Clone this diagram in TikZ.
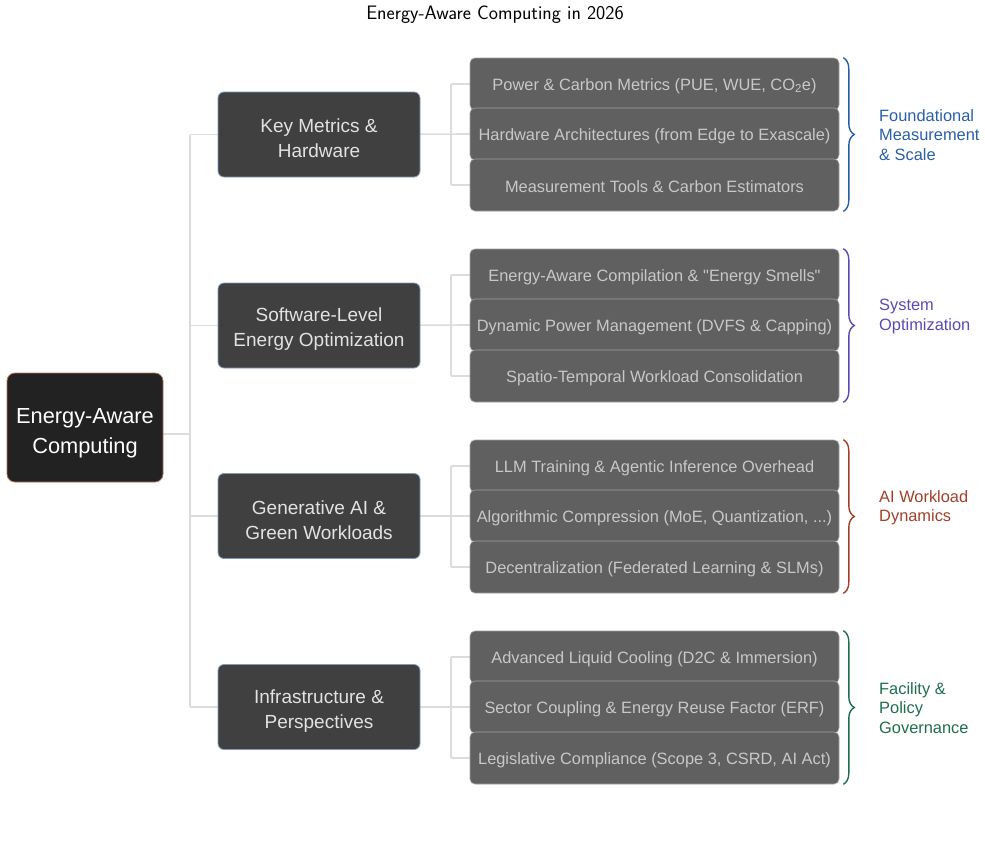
\documentclass[tikz,border=0pt]{standalone}
\usepackage{fontspec}
\setmainfont{Liberation Sans}[Ligatures=TeXOff]
\newfontfamily\titlefont{Latin Modern Sans}
\usetikzlibrary{decorations.pathreplacing}
\definecolor{rootfill}{HTML}{222222}
\definecolor{rootline}{HTML}{B0705A}
\definecolor{midfill}{HTML}{404040}
\definecolor{midline}{HTML}{7F9CBF}
\definecolor{leaffill}{HTML}{606060}
\definecolor{leafline}{HTML}{A0A0A0}
\definecolor{leaftext}{HTML}{C8C8C8}
\definecolor{midtext}{HTML}{E2E2E2}
\definecolor{connc}{HTML}{DCDCDC}
\definecolor{gA}{HTML}{2A5EA6}
\definecolor{gB}{HTML}{5A4AB2}
\definecolor{gC}{HTML}{A0402A}
\definecolor{gD}{HTML}{1E6E4E}
\tikzset{
  rootbox/.style={draw=rootline, fill=rootfill, line width=0.8pt, rounded corners=8pt,
    minimum width=156pt, minimum height=109pt, text=white, align=center,
    font=\fontsize{21.8}{30}\selectfont, inner sep=0pt},
  midbox/.style={draw=midline, fill=midfill, line width=0.8pt, rounded corners=6pt,
    minimum width=202pt, minimum height=85pt, text=midtext, align=center,
    font=\fontsize{19}{25}\selectfont, inner sep=0pt},
  leafbox/.style={draw=leafline, fill=leaffill, line width=0.6pt, rounded corners=5pt,
    minimum width=369pt, minimum height=52pt, text=leaftext, align=center,
    font=\fontsize{16.4}{19}\selectfont, inner sep=0pt},
  conn/.style={draw=connc, line width=1.6pt},
  bracec/.style={decorate, decoration={brace, amplitude=11pt}, line width=1.4pt},
  grplabel/.style={anchor=west, align=left, font=\fontsize{16.4}{19.2}\selectfont, inner sep=0pt}
}
\newcommand{\rtxt}[1]{\raisebox{-6pt}[\height][\depth]{\parbox{150pt}{\centering #1}}}
\newcommand{\mtxt}[1]{\raisebox{-4pt}[\height][\depth]{\parbox{200pt}{\centering #1}}}
\newcommand{\ltxt}[1]{\raisebox{-2pt}[\height][\depth]{#1}}
\begin{document}
\begin{tikzpicture}[x=1pt,y=-1pt]
\useasboundingbox (0,0) rectangle (985,844);
\node[font=\titlefont\fontsize{19.5}{22}\selectfont] (title) at (495,15) {Energy-Aware Computing in 2026};

\coordinate (spine) at (190,0);

% connectors (drawn first, under boxes)
\coordinate (rootR) at (163,434);
\coordinate (c1) at (319,134.5);
\coordinate (c2) at (319,325.5);
\coordinate (c3) at (319,516);
\coordinate (c4) at (319,707);
\draw[conn] (rootR) -- (spine |- rootR);
\draw[conn] (spine |- c1) -- (spine |- c4);
\foreach \i in {1,2,3,4}{
  \draw[conn] (spine |- c\i) -- (c\i);
}
\foreach \i/\ya/\yb/\yc in {1/84/134/185, 2/275/325/376, 3/466/516/567, 4/657/707/758}{
  \draw[conn] (c\i) -- (470,\yb);
  \draw[conn] (451,\ya) -- (451,\yc);
  \draw[conn] (451,\ya) -- (470,\ya);
  \draw[conn] (451,\yc) -- (470,\yc);
}

\node[rootbox] (root) at (85,427.5) {\rtxt{Energy-Aware\\Computing}};
\node[midbox] (m1) at (c1) {\mtxt{Key Metrics \&\\Hardware}};
\node[midbox] (m2) at (c2) {\mtxt{Software-Level\\Energy Optimization}};
\node[midbox] (m3) at (c3) {\mtxt{Generative AI \&\\Green Workloads}};
\node[midbox] (m4) at (c4) {\mtxt{Infrastructure \&\\Perspectives}};

% leaves
\node[leafbox] (l11) at (654.5,84) {\ltxt{Power \& Carbon Metrics (PUE, WUE, CO\textsubscript{2}e)}};
\node[leafbox] (l12) at (654.5,134) {\ltxt{Hardware Architectures (from Edge to Exascale)}};
\node[leafbox] (l13) at (654.5,185) {\ltxt{Measurement Tools \& Carbon Estimators}};
\node[leafbox] (l21) at (654.5,275) {\ltxt{Energy-Aware Compilation \& "Energy Smells"}};
\node[leafbox] (l22) at (654.5,325) {\ltxt{Dynamic Power Management (DVFS \& Capping)}};
\node[leafbox] (l23) at (654.5,376) {\ltxt{Spatio-Temporal Workload Consolidation}};
\node[leafbox] (l31) at (654.5,466) {\ltxt{LLM Training \& Agentic Inference Overhead}};
\node[leafbox] (l32) at (654.5,516) {\ltxt{Algorithmic Compression (MoE, Quantization, ...)}};
\node[leafbox] (l33) at (654.5,567) {\ltxt{Decentralization (Federated Learning \& SLMs)}};
\node[leafbox] (l41) at (654.5,657) {\ltxt{Advanced Liquid Cooling (D2C \& Immersion)}};
\node[leafbox] (l42) at (654.5,707) {\ltxt{Sector Coupling \& Energy Reuse Factor (ERF)}};
\node[leafbox] (l43) at (654.5,758) {\ltxt{Legislative Compliance (Scope 3, CSRD, AI Act)}};

% braces
\draw[bracec, gA] ([xshift=4pt]l11.north east) -- ([xshift=4pt]l13.south east);
\draw[bracec, gB] ([xshift=4pt]l21.north east) -- ([xshift=4pt]l23.south east);
\draw[bracec, gC] ([xshift=4pt]l31.north east) -- ([xshift=4pt]l33.south east);
\draw[bracec, gD] ([xshift=4pt]l41.north east) -- ([xshift=4pt]l43.south east);

\node[grplabel, text=gA] (tA) at (879,135) {Foundational\\Measurement\\\& Scale};
\node[grplabel, text=gB] (tB) at (879,316.5) {System\\Optimization};
\node[grplabel, text=gC] (tC) at (879,507.5) {AI Workload\\Dynamics};
\node[grplabel, text=gD] (tD) at (879,708) {Facility \&\\Policy\\Governance};
\end{tikzpicture}
\end{document}
